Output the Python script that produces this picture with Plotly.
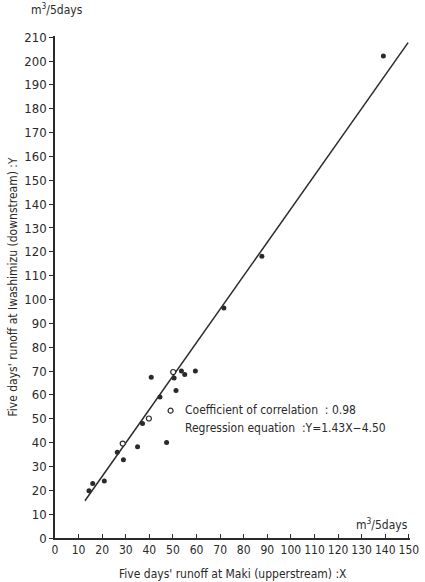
import plotly.graph_objects as go

# Observed five-day runoff pairs (m^3/5days)
maki_filled = [14.4, 16.0, 20.9, 26.4, 29.0, 35.0, 37.1, 40.8, 44.5, 47.3, 50.5, 51.3, 53.6, 55.0, 59.5, 71.6, 87.7, 139.2]
iwa_filled = [19.8, 22.9, 23.9, 36.0, 32.8, 38.3, 48.0, 67.4, 59.1, 40.0, 67.1, 61.9, 70.0, 68.6, 70.0, 96.4, 118.1, 202.1]
maki_open = [28.7, 39.8, 49.0, 50.1]
iwa_open = [39.6, 50.1, 53.4, 69.6]

# Regression line as drawn
line_x = [12.7, 149.7]
line_y = [15.6, 207.7]

x_ticks = list(range(0, 151, 10))
y_ticks = list(range(0, 211, 10))

FONT = "DejaVu Sans Condensed, Liberation Sans Narrow, sans-serif"
INK = "#2a2a2a"

fig = go.Figure()
fig.add_trace(go.Scatter(x=line_x, y=line_y, mode="lines",
                         line=dict(color=INK, width=1.5), showlegend=False))
fig.add_trace(go.Scatter(x=maki_filled, y=iwa_filled, mode="markers",
                         marker=dict(size=5, color=INK), showlegend=False))
fig.add_trace(go.Scatter(x=maki_open, y=iwa_open, mode="markers",
                         marker=dict(size=5, color="white", line=dict(color=INK, width=1.2)),
                         showlegend=False))

fig.update_layout(
    width=425, height=582,
    margin=dict(l=53, r=15, t=36, b=44),
    paper_bgcolor="white", plot_bgcolor="white",
    font=dict(family=FONT, size=13, color=INK),
    xaxis=dict(range=[0, 150.5], tickvals=x_ticks, ticktext=[str(v) for v in x_ticks],
               tickangle=0, tickfont=dict(size=12), automargin=False,
               showgrid=False, zeroline=False, showline=True, linecolor=INK, linewidth=1.5,
               ticks="inside", ticklen=4, tickcolor=INK),
    yaxis=dict(range=[0, 210.5], tickvals=y_ticks, ticktext=[str(v) for v in y_ticks],
               tickfont=dict(size=13),
               showgrid=False, zeroline=False, showline=True, linecolor=INK, linewidth=1.5,
               ticks="outside", ticklen=4, tickcolor=INK,
               title=dict(text="Five days' runoff at Iwashimizu (downstream) :Y",
                          font=dict(size=12), standoff=4)),
)

fig.add_annotation(xref="paper", yref="paper", x=0.5, y=0.0, yshift=-36,
                   text="Five days' runoff at Maki (upperstream) :X", showarrow=False,
                   xanchor="center", yanchor="middle", font=dict(size=12))
fig.add_annotation(xref="paper", yref="paper", x=0.0, y=1.0, yshift=17, xshift=-26,
                   text="m<sup>3</sup>/5days", showarrow=False, xanchor="left", yanchor="bottom",
                   font=dict(size=12))
fig.add_annotation(xref="paper", yref="paper", x=1.0, y=0.0, yshift=4,
                   text="m<sup>3</sup>/5days", showarrow=False, xanchor="right", yanchor="bottom",
                   font=dict(size=12))
fig.add_annotation(x=54.3, y=53.6, xanchor="left", yanchor="middle", showarrow=False,
                   text="Coefficient of correlation  : 0.98", font=dict(size=12))
fig.add_annotation(x=54.3, y=46.2, xanchor="left", yanchor="middle", showarrow=False,
                   text="Regression equation  :Y=1.43X\u22124.50", font=dict(size=12))

fig.write_html("out.html")
